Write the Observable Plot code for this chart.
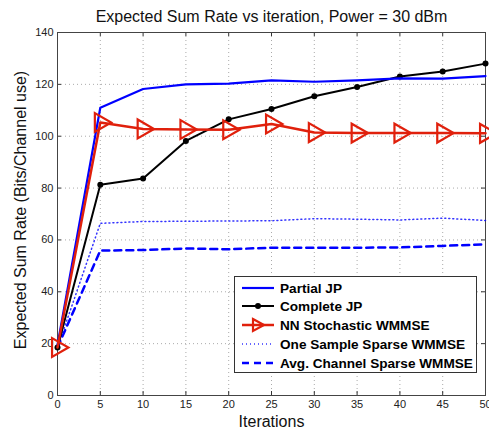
<!DOCTYPE html>
<html>
<head>
<meta charset="utf-8">
<script src="https://cdn.jsdelivr.net/npm/d3@7"></script>
<script src="https://cdn.jsdelivr.net/npm/@observablehq/plot@0.6"></script>
<style>
  html, body { margin: 0; padding: 0; background: #fff; }
  #wrap { position: relative; width: 489px; height: 434px; font-family: "Liberation Sans", Arial, sans-serif; }
  #legend { position: absolute; left: 234px; top: 276px; width: 243px; height: 97px; border: 1px solid #333; background: #fff; box-sizing: border-box; }
  .row { position: absolute; left: 6px; height: 18px; display: flex; align-items: center; font-weight: bold; font-size: 13.6px; color: #000; white-space: nowrap; }
  .row svg { margin-right: 5px; }
</style>
</head>
<body>
<div id="wrap"></div>
<script>
const iterations = [0, 5, 10, 15, 20, 25, 30, 35, 40, 45, 50];
const partialJP   = [19.5, 111.0, 118.2, 120.0, 120.3, 121.5, 121.0, 121.5, 122.3, 122.2, 123.2];
const completeJP  = [18.5, 81.3, 83.7, 98.2, 106.5, 110.5, 115.4, 119.0, 123.0, 125.0, 128.0];
const nnStochastic = [18.5, 105.3, 102.8, 102.6, 102.5, 104.7, 101.4, 101.2, 101.2, 101.2, 101.1];
const oneSample   = [18.5, 66.4, 67.1, 67.2, 67.3, 67.4, 68.2, 68.0, 67.7, 68.4, 67.5];
const avgChannel  = [18.5, 55.9, 56.1, 56.7, 56.4, 57.0, 57.0, 57.0, 57.1, 57.7, 58.3];
const xTicks = [0, 5, 10, 15, 20, 25, 30, 35, 40, 45, 50];
const yTicks = [0, 20, 40, 60, 80, 100, 120, 140];
const seriesNames = ["Partial JP", "Complete JP", "NN Stochastic WMMSE", "One Sample Sparse WMMSE", "Avg. Channel Sparse WMMSE"];

const mk = (vals) => iterations.map((x, i) => ({x, y: vals[i]}));
const dPartial = mk(partialJP), dComplete = mk(completeJP), dNN = mk(nnStochastic),
      dOne = mk(oneSample), dAvg = mk(avgChannel);

const W = 489, H = 434, mL = 57, mR = 4, mT = 32, mB = 39;
const pw = W - mL - mR, ph = H - mT - mB;
const RED = "#e0200c", BLUE = "#0000ff";
const font = "'Liberation Sans', Arial, sans-serif";

const chart = Plot.plot({
  width: W, height: H,
  marginLeft: mL, marginRight: mR, marginTop: mT, marginBottom: mB,
  style: {fontFamily: font, fontSize: "11px", color: "#222", background: "#fff"},
  x: {domain: [0, 50], ticks: xTicks},
  y: {domain: [0, 140], ticks: yTicks},
  marks: [
    Plot.gridX(xTicks, {stroke: "#aaa", strokeOpacity: 1, strokeDasharray: "1,3"}),
    Plot.gridY(yTicks, {stroke: "#aaa", strokeOpacity: 1, strokeDasharray: "1,3"}),
    Plot.axisX(xTicks, {tickSize: 0, tickPadding: 5, label: null, fontSize: 11}),
    Plot.axisY(yTicks, {tickSize: 0, tickPadding: 4, label: null, fontSize: 11}),
    // inward ticks, all four sides
    Plot.tickY(yTicks, {y: d => d, insetRight: pw - 4, stroke: "#333"}),
    Plot.tickY(yTicks, {y: d => d, insetLeft: pw - 4, stroke: "#333"}),
    Plot.tickX(xTicks, {x: d => d, insetTop: ph - 4, stroke: "#333"}),
    Plot.tickX(xTicks, {x: d => d, insetBottom: ph - 4, stroke: "#333"}),
    Plot.frame({stroke: "#444", strokeWidth: 1}),
    // series
    Plot.line(dAvg, {x: "x", y: "y", stroke: BLUE, strokeWidth: 2.5, strokeDasharray: "7,5"}),
    Plot.line(dOne, {x: "x", y: "y", stroke: BLUE, strokeWidth: 1.5, strokeDasharray: "1,3", strokeOpacity: 0.8}),
    Plot.line(dComplete, {x: "x", y: "y", stroke: "#000", strokeWidth: 2}),
    Plot.dot(dComplete, {x: "x", y: "y", r: 3, fill: "#000"}),
    Plot.line(dPartial, {x: "x", y: "y", stroke: BLUE, strokeWidth: 2.2}),
    Plot.line(dNN, {x: "x", y: "y", stroke: RED, strokeWidth: 2.5}),
    Plot.dot(dNN, {x: "x", y: "y", symbol: "triangle", rotate: 90, r: 7, stroke: RED, strokeWidth: 2.2, fill: "none"}),
    // titles
    Plot.text([`Expected Sum Rate vs iteration, Power = 30 dBm`], {frameAnchor: "top", dy: -16, fontSize: 16, fill: "#111", lineAnchor: "middle"}),
    Plot.text([`Iterations`], {frameAnchor: "bottom", dy: 26, fontSize: 16, fill: "#111", lineAnchor: "middle"}),
    Plot.text([`Expected Sum Rate (Bits/Channel use)`], {frameAnchor: "left", textAnchor: "middle", dx: -37, dy: -4, rotate: -90, fontSize: 16, fill: "#111", lineAnchor: "middle"})
  ]
});

const wrap = document.getElementById("wrap");
wrap.appendChild(chart);

// Legend
const legend = document.createElement("div");
legend.id = "legend";
const samples = [
  `<line x1="1" y1="6" x2="33" y2="6" stroke="${BLUE}" stroke-width="2.2"/>`,
  `<line x1="1" y1="6" x2="33" y2="6" stroke="#000" stroke-width="2"/><circle cx="17" cy="6" r="3" fill="#000"/>`,
  `<line x1="1" y1="6" x2="33" y2="6" stroke="${RED}" stroke-width="2.5"/><path d="M12,0 L23,6 L12,12 Z" fill="none" stroke="${RED}" stroke-width="2.2"/>`,
  `<line x1="1" y1="6" x2="33" y2="6" stroke="${BLUE}" stroke-width="1.5" stroke-dasharray="1,3" stroke-opacity="0.8"/>`,
  `<line x1="1" y1="6" x2="33" y2="6" stroke="${BLUE}" stroke-width="2.5" stroke-dasharray="7,5"/>`
];
seriesNames.forEach((name, i) => {
  const row = document.createElement("div");
  row.className = "row";
  row.style.top = (2 + i * 18.8) + "px";
  row.innerHTML = `<svg width="34" height="13" style="overflow:visible">${samples[i]}</svg><span>${name}</span>`;
  legend.appendChild(row);
});
wrap.appendChild(legend);
</script>
</body>
</html>
